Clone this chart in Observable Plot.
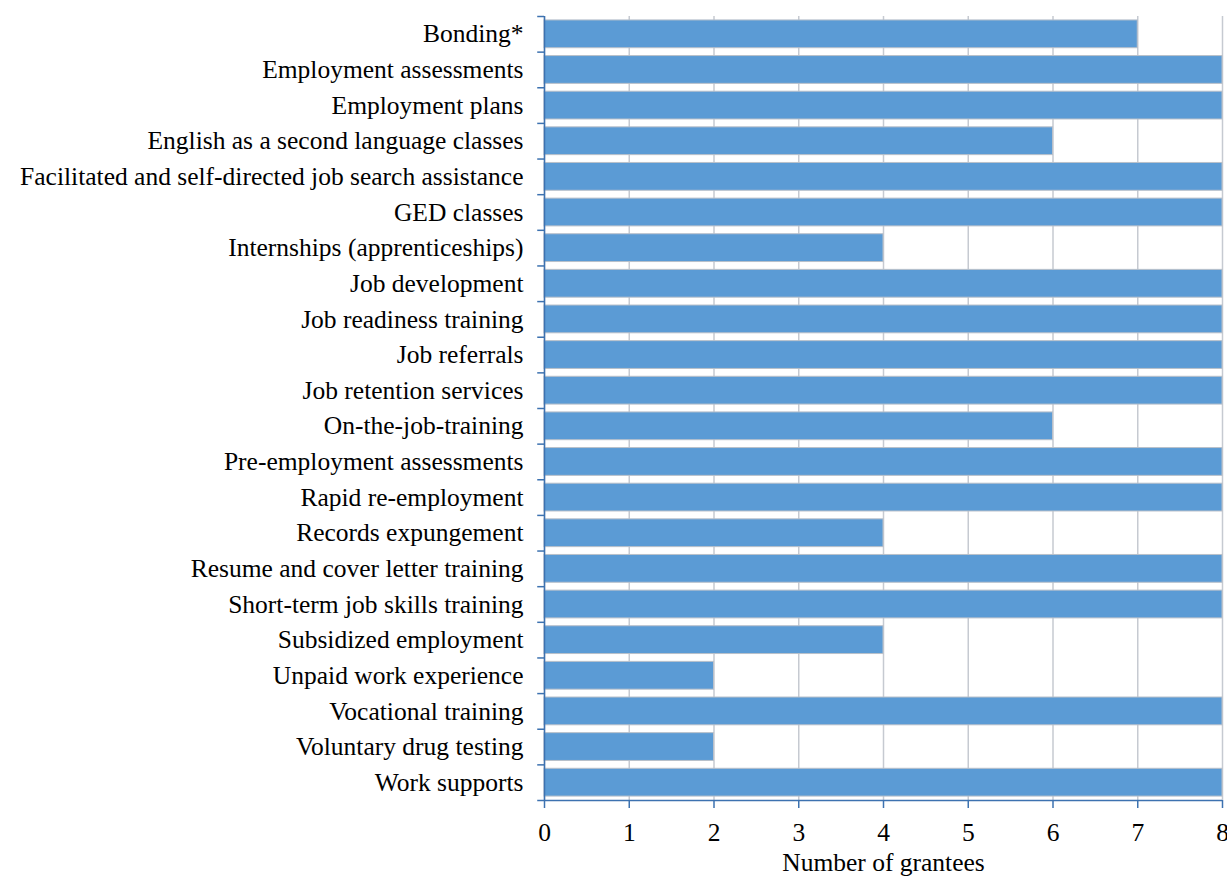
<!DOCTYPE html>
<html>
<head>
<meta charset="utf-8">
<script src="https://cdn.jsdelivr.net/npm/d3@7"></script>
<script src="https://cdn.jsdelivr.net/npm/@observablehq/plot@0.6"></script>
<style>
  html, body { margin: 0; padding: 0; background: #fff; }
  svg { overflow: visible; }
</style>
</head>
<body>
<div id="chart"></div>
<script>
const categories = [
  "Bonding*",
  "Employment assessments",
  "Employment plans",
  "English as a second language classes",
  "Facilitated and self-directed job search assistance",
  "GED classes",
  "Internships (apprenticeships)",
  "Job development",
  "Job readiness training",
  "Job referrals",
  "Job retention services",
  "On-the-job-training",
  "Pre-employment assessments",
  "Rapid re-employment",
  "Records expungement",
  "Resume and cover letter training",
  "Short-term job skills training",
  "Subsidized employment",
  "Unpaid work experience",
  "Vocational training",
  "Voluntary drug testing",
  "Work supports"
];
const grantees = [7, 8, 8, 6, 8, 8, 4, 8, 8, 8, 8, 6, 8, 8, 4, 8, 8, 4, 2, 8, 2, 8];
const xTicks = [0, 1, 2, 3, 4, 5, 6, 7, 8];
const xLabel = "Number of grantees";

const data = categories.map((c, i) => ({category: c, value: grantees[i]}));

const W = 1227, H = 877;
const mL = 544, mR = 5, mT = 16, mB = 77;
const step = (H - mT - mB) / categories.length;
const axisBlue = "#3d72b0";

const chart = Plot.plot({
  width: W,
  height: H,
  marginLeft: mL,
  marginRight: mR,
  marginTop: mT,
  marginBottom: mB,
  style: {fontFamily: "'Liberation Serif', 'Times New Roman', serif", fontSize: "25.5px", color: "#000", background: "#fff", overflow: "visible"},
  x: {domain: [0, 8], label: xLabel, labelAnchor: "center", labelArrow: "none"},
  y: {domain: categories, paddingInner: 0.22, paddingOuter: 0.11, round: false, label: null},
  marks: [
    Plot.gridX(xTicks, {stroke: "#c6cad1", strokeOpacity: 1, strokeWidth: 1.5}),
    Plot.barX(data, {x: "value", y: "category", fill: "#5b9bd5", stroke: "#b9c0ca", strokeWidth: 1}),
    Plot.ruleX([0], {stroke: axisBlue, strokeWidth: 1.5}),
    Plot.ruleY([categories[categories.length - 1]], {dy: step / 2, stroke: axisBlue, strokeWidth: 1.5}),
    Plot.ruleY(categories, {y: d => d, x1: -0.08, x2: 0, dy: step / 2, stroke: axisBlue, strokeWidth: 1.5}),
    Plot.ruleY([categories[0]], {y: d => d, x1: -0.08, x2: 0, dy: -step / 2, stroke: axisBlue, strokeWidth: 1.5}),
    Plot.axisY({tickSize: 0, tickPadding: 21, label: null}),
    Plot.axisX(xTicks, {tickSize: 8, tickPadding: 14, stroke: axisBlue, strokeWidth: 1.5, fill: "#000", label: xLabel, labelAnchor: "center", labelOffset: 70, labelArrow: "none"})
  ]
});

document.getElementById("chart").appendChild(chart);
</script>
</body>
</html>
